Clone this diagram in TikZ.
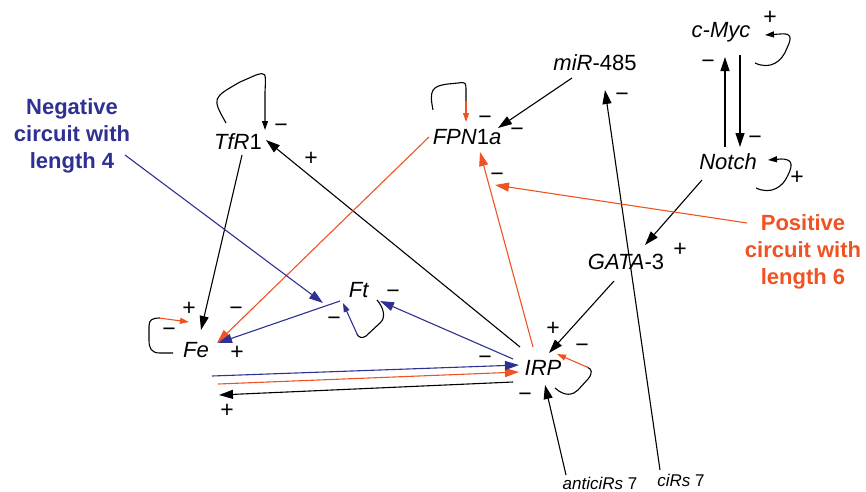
\documentclass[tikz,border=0pt]{standalone}
\usepackage{fontspec}
\setmainfont{Liberation Sans}
\usetikzlibrary{arrows.meta}
\definecolor{cred}{RGB}{240,83,35}
\definecolor{cblue}{RGB}{46,49,146}
\begin{document}
\begin{tikzpicture}[x=1pt,y=-1pt,
  gene/.style={inner sep=0pt,font=\fontsize{22}{26}\selectfont},
  smalltxt/.style={inner sep=0pt,font=\fontsize{17}{20}\selectfont},
  sgn/.style={inner sep=0pt,font=\fontsize{23}{27}\selectfont},
  circ/.style={inner sep=0pt,align=center,font=\fontsize{22}{27}\selectfont\bfseries},
  conn/.style={line width=1.1pt,-{Triangle[length=14pt,width=9pt]}},
  loopc/.style={line width=1.1pt},
  looparr/.style={line width=1.1pt,-{Triangle[length=9pt,width=6pt]}}]
\useasboundingbox (0,0) rectangle (866,491);
% nodes
\node[gene] (tfr) at (238,142) {\textit{TfR}1};
\node[gene] (fpn) at (467,137) {\textit{FPN}1\textit{a}};
\node[gene] (mir) at (595,63) {\textit{miR}-485};
\node[gene] (cmyc) at (721,32) {\textit{c-Myc}};
\node[gene] (notch) at (728,162) {\textit{Notch}};
\node[gene] (gata) at (626,262) {\textit{GATA}-3};
\node[gene] (ft) at (359,290) {\textit{Ft}};
\node[gene] (fe) at (196,350) {\textit{Fe}};
\node[gene] (irp) at (543,368) {\textit{IRP}};
\node[smalltxt] (anti) at (600,483) {\textit{anticiRs} 7};
\node[smalltxt] (cirs) at (681,480) {\textit{ciRs} 7};
\node[circ,text=cblue] (negl) at (72,136) {Negative\\circuit with\\length 4};
\node[circ,text=cred] (posl) at (803,252) {Positive\\circuit with\\length 6};
% signs
\node[sgn] (s1) at (281,128) {−};
\node[sgn] (s2) at (311,159) {+};
\node[sgn] (s3) at (189,309) {+};
\node[sgn] (s4) at (169,332) {−};
\node[sgn] (s5) at (236,311) {−};
\node[sgn] (s6) at (237,353) {+};
\node[sgn] (s7) at (227,411) {+};
\node[sgn] (s8) at (393,294) {−};
\node[sgn] (s9) at (334,321) {−};
\node[sgn] (s10) at (485,360) {−};
\node[sgn] (s11) at (553,329) {+};
\node[sgn] (s12) at (582,348) {−};
\node[sgn] (s13) at (525,397) {−};
\node[sgn] (s14) at (485,120) {−};
\node[sgn] (s15) at (517,132) {−};
\node[sgn] (s16) at (497,177) {−};
\node[sgn] (s17) at (622,97) {−};
\node[sgn] (s18) at (770,18) {+};
\node[sgn] (s19) at (708,64) {−};
\node[sgn] (s20) at (755,140) {−};
\node[sgn] (s21) at (797,178) {+};
\node[sgn] (s22) at (680,250) {+};
% black connectors
\draw[conn] ([shift={(-23,-21)}]irp.center) -- ([shift={(28,-2)}]tfr.center);
\draw[conn] ([shift={(4,13)}]tfr.center) -- ([shift={(5,-20)}]fe.center);
\draw[conn] ([shift={(-30,14)}]irp.center) -- ([shift={(23,45)}]fe.center);
\draw[conn] ([shift={(-12,19)}]gata.center) -- ([shift={(6,-15)}]irp.center);
\draw[conn] ([shift={(-34,-8)}]anti.center) -- ([shift={(2,17)}]irp.center);
\draw[conn] ([shift={(-21,-10)}]cirs.center) -- ([shift={(10,27)}]mir.center);
\draw[conn] ([shift={(-23,15)}]mir.center) -- ([shift={(31,-9)}]fpn.center);
\draw[conn] ([shift={(-3,-15)}]notch.center) -- ([shift={(4,25)}]cmyc.center);
\draw[conn] ([shift={(19,23)}]cmyc.center) -- ([shift={(12,-15)}]notch.center);
\draw[conn] ([shift={(-26,18)}]notch.center) -- ([shift={(19,-17)}]gata.center);
% red connectors
\draw[conn,cred] ([shift={(-38,0)}]fpn.center) -- ([shift={(21,-7)}]fe.center);
\draw[conn,cred] ([shift={(22,34)}]fe.center) -- ([shift={(-24,4)}]irp.center);
\draw[conn,cred] ([shift={(-10,-21)}]irp.center) -- ([shift={(13,15)}]fpn.center);
\draw[conn,cred] ([shift={(-56,-29)}]posl.center) -- ([shift={(28,48)}]fpn.center);
% blue connectors
\draw[conn,cblue] ([shift={(-19,11)}]ft.center) -- ([shift={(22,-7)}]fe.center);
\draw[conn,cblue] ([shift={(53,19)}]negl.center) -- ([shift={(-36,13)}]ft.center);
\draw[conn,cblue] ([shift={(-30,-9)}]irp.center) -- ([shift={(21,11)}]ft.center);
\draw[conn,cblue] ([shift={(16,26)}]fe.center) -- ([shift={(-24,-3)}]irp.center);
% self loops
\draw[looparr] ([shift={(-12,-19)}]tfr.center) .. controls (212,98) .. (240,82) -- (256,75) .. controls (266,72) .. (265,92) -- ([shift={(27,-12)}]tfr.center);
\draw[loopc] ([shift={(-34,-27)}]fpn.center) .. controls (429,90) and (432,86) .. (448,84) -- (458,83) .. controls (466,82) .. (466,92) -- (466,102);
\draw[looparr,cred] (466,101) -- ([shift={(-1,-15)}]fpn.center);
\draw[looparr] ([shift={(34,31)}]cmyc.center) .. controls (770,70) and (782,62) .. (787,48) .. controls (793,36) and (790,33) .. (780,34) -- ([shift={(44,3)}]cmyc.center);
\draw[looparr] ([shift={(28,26)}]notch.center) .. controls (771,195) and (783,187) .. (788,175) .. controls (794,163) and (791,159) .. (781,159) -- ([shift={(40,-2)}]notch.center);
\draw[loopc] ([shift={(-23,3)}]fe.center) -- (160,353) .. controls (151,353) and (149,348) .. (149,340) -- (149,326) .. controls (149,320) and (152,318) .. (160,318);
\draw[looparr,cred] (159,318) -- ([shift={(-7,-28)}]fe.center);
\draw[loopc] ([shift={(18,10)}]ft.center) .. controls (384,308) and (386,318) .. (380,323) -- (366,336) .. controls (362,339) and (358,337) .. (357,334);
\draw[looparr,cblue] (357.5,335) -- ([shift={(-16,13)}]ft.center);
\draw[loopc] ([shift={(12,20)}]irp.center) .. controls (565,397) and (573,395) .. (578,390) -- (588,379) .. controls (593,373) and (592,369) .. (587,367);
\draw[looparr,cred] (588,367.5) -- ([shift={(14,-14)}]irp.center);
\end{tikzpicture}
\end{document}
